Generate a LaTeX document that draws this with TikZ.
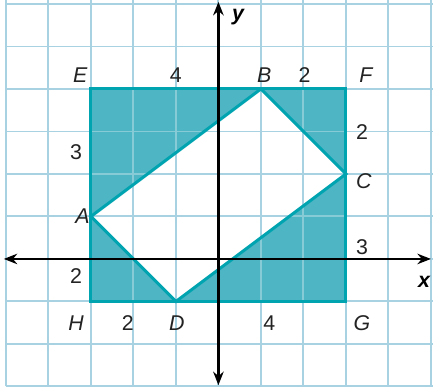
\documentclass[tikz,border=0pt]{standalone}
\usepackage{fontspec}
\setmainfont{Liberation Sans}
\usetikzlibrary{arrows.meta}
\definecolor{gridblue}{RGB}{168,210,225}
\definecolor{gridteal}{RGB}{135,203,214}
\definecolor{tealfill}{RGB}{78,181,196}
\definecolor{tealline}{RGB}{0,163,176}
\definecolor{labelgray}{RGB}{35,35,35}
\begin{document}
\begin{tikzpicture}[
  gridline/.style={line width=1.3pt},
  edge/.style={draw=tealline, line width=2pt, line join=miter},
  axis/.style={line width=1.6pt, black, -{Stealth[length=9pt,width=7pt]}},
  lab/.style={text=labelgray, font=\fontsize{14.3}{17}\selectfont, inner sep=0pt},
  pt/.style={lab, font=\fontsize{14.3}{17}\selectfont\itshape},
  axlab/.style={text=black, inner sep=0pt, font=\fontsize{14.3}{17}\selectfont\bfseries\itshape}
]
\useasboundingbox (-5.14,-3.106) rectangle (5.05,6.094);
\fill[white] (-5.14,-3.106) rectangle (5.05,6.094);
% points
\coordinate (E) at (-3,4);
\coordinate (F) at (3,4);
\coordinate (G) at (3,-1);
\coordinate (H) at (-3,-1);
\coordinate (A) at (-3,1);
\coordinate (B) at (1,4);
\coordinate (C) at (3,2);
\coordinate (D) at (-1,-1);
% grid
\begin{scope}
\clip (-5.14,-3.106) rectangle (5.05,6.094);
\foreach \x in {-5,...,5} \draw[gridblue, gridline] (\x,-3) -- (\x,6.2);
\foreach \y in {-3,...,6} \draw[gridblue, gridline] (-5,\y) -- (5.2,\y);
\end{scope}
% shaded region
\fill[tealfill, even odd rule] (E) -- (F) -- (G) -- (H) -- cycle (A) -- (B) -- (C) -- (D) -- cycle;
\begin{scope}[even odd rule]
\clip (E) -- (F) -- (G) -- (H) -- cycle (A) -- (B) -- (C) -- (D) -- cycle;
\foreach \x in {-5,...,5} \draw[gridteal, gridline] (\x,-3) -- (\x,6.2);
\foreach \y in {-3,...,6} \draw[gridteal, gridline] (-5,\y) -- (5.2,\y);
\end{scope}
\draw[edge] (E) -- (F) -- (G) -- (H) -- cycle;
\draw[edge] (A) -- (B) -- (C) -- (D) -- cycle;
% axes
\coordinate (O) at (0,0);
\coordinate (xl) at (-5.05,0);
\coordinate (xr) at (5.0,0);
\coordinate (yt) at (0,6.05);
\coordinate (yb) at (0,-2.97);
\draw[axis] (O) -- (xr);
\draw[axis] (O) -- (xl);
\draw[axis] (O) -- (yt);
\draw[axis] (O) -- (yb);
% labels
\node[axlab] (lx) at (4.84,-0.55) {x};
\node[axlab] (ly) at (0.46,5.69) {y};
\node[pt] (lE) at (-3.25,4.33) {E};
\node[pt] (lB) at (1.08,4.33) {B};
\node[pt] (lF) at (3.47,4.33) {F};
\node[pt] (lC) at (3.42,1.84) {C};
\node[pt] (lA) at (-3.2,1.0) {A};
\node[pt] (lH) at (-3.35,-1.5) {H};
\node[pt] (lD) at (-0.98,-1.5) {D};
\node[pt] (lG) at (3.38,-1.5) {G};
\node[lab] (n1) at (-1.0,4.33) {4};
\node[lab] (n2) at (2.03,4.33) {2};
\node[lab] (n3) at (3.38,2.99) {2};
\node[lab] (n4) at (3.38,0.27) {3};
\node[lab] (n5) at (-3.35,2.52) {3};
\node[lab] (n6) at (-3.35,-0.4) {2};
\node[lab] (n7) at (-2.13,-1.5) {2};
\node[lab] (n8) at (1.2,-1.5) {4};
\end{tikzpicture}
\end{document}
